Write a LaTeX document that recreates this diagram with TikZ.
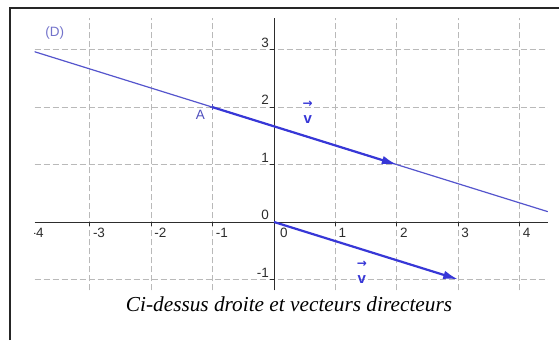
\documentclass[tikz,border=0pt]{standalone}
\usepackage{fontspec}
\setmainfont{Liberation Serif}
\setsansfont{Liberation Sans}
\newfontfamily\arrowfont{DejaVu Sans}
\usetikzlibrary{arrows.meta,calc}
\definecolor{gridgray}{RGB}{185,185,185}
\definecolor{axisgray}{RGB}{45,45,45}
\definecolor{lineblue}{RGB}{85,85,205}
\definecolor{vecblue}{RGB}{55,55,215}
\definecolor{lblblue}{RGB}{80,80,190}
\tikzset{
  gridline/.style={gridgray, line width=0.8pt, dash pattern=on 6pt off 3pt},
  axisline/.style={axisgray, line width=0.9pt},
  tickmark/.style={axisgray, line width=0.9pt},
  ticklbl/.style={font=\sffamily\fontsize{13.5}{14}\selectfont, text=axisgray, inner sep=1pt},
  lineD/.style={lineblue, line width=1.2pt},
  vecarrow/.style={vecblue, line width=2.2pt, -{Latex[length=15pt,width=8.5pt]}},
  bluelbl/.style={font=\sffamily\fontsize{13.5}{14}\selectfont, text=lblblue, inner sep=0pt},
  veclbl/.style={font=\sffamily\bfseries\fontsize{15}{12}\selectfont, text=vecblue, inner sep=0pt, align=center},
}
\newcommand{\vecarrowsym}{{\arrowfont\bfseries\fontsize{12}{12}\selectfont →}}
\begin{document}
\begin{tikzpicture}[x=1pt,y=1pt]
\useasboundingbox (0,0) rectangle (559,340);
\fill[white] (0,0) rectangle (559,340);
% frame
\draw[black!85, line width=2pt] (10,0) -- (10,332) -- (559,332);
% caption
\node[font=\itshape\fontsize{21.3}{22}\selectfont, anchor=base] (cap) at (289,29) {Ci-dessus droite et vecteurs directeurs};
\begin{scope}[shift={(274,118)}, x=61.4pt, y=57.4pt]
  \clip (-3.9,-1.19) rectangle (4.46,3.55);
  % grid
  \foreach \gx in {-3,-2,-1,1,2,3,4} \draw[gridline] (\gx,-1.19) -- (\gx,3.55);
  \foreach \gy in {-1,1,2,3} \draw[gridline] (-3.9,\gy) -- (4.46,\gy);
  % axes
  \draw[axisline] (-3.9,0) -- (4.46,0);
  \draw[axisline] (0,-1.19) -- (0,3.55);
  \foreach \gx in {-4,-3,-2,-1,1,2,3,4} {
    \draw[tickmark] (\gx,0) -- ++(0,-4pt);
    \node[ticklbl, anchor=north west] (xl\gx) at ($(\gx,0)+(2pt,-5pt)$) {\gx};
  }
  \node[ticklbl, anchor=north west] (xl0) at ($(0,0)+(5pt,-5pt)$) {0};
  \foreach \gy in {-1,1,2,3} {
    \draw[tickmark] (0,\gy) -- ++(-4pt,0);
  }
  \foreach \gy in {-1,0,1,2,3} {
    \node[ticklbl, anchor=south east] (yl\gy) at ($(0,\gy)+(-4pt,1pt)$) {\gy};
  }
  % line (D)
  \coordinate (D1) at (-3.9,{2+2.9/3});
  \coordinate (D2) at (4.46,{2-5.46/3});
  \draw[lineD] (D1) -- (D2);
  \node[bluelbl, text=lblblue!80] (Dlbl) at (-3.57,3.29) {(D)};
  % point A
  \coordinate (A) at (-1,2);
  \draw[lblblue, line width=1pt] (A) +(-3pt,0) -- +(3pt,0) (A) +(0,-3pt) -- +(0,3pt);
  \node[bluelbl] (Albl) at (-1.2,1.86) {A};
  % vectors
  \coordinate (B) at (2,1);
  \coordinate (O) at (0,0);
  \coordinate (C) at (3,-1);
  \draw[vecarrow] (A) -- (B);
  \draw[vecarrow] (O) -- (C);
  \node[veclbl] (v1) at (0.55,1.92) {\vecarrowsym\\[4pt]v};
  \node[veclbl] (v2) at (1.43,-0.87) {\vecarrowsym\\[4pt]v};
\end{scope}
\end{tikzpicture}
\end{document}
